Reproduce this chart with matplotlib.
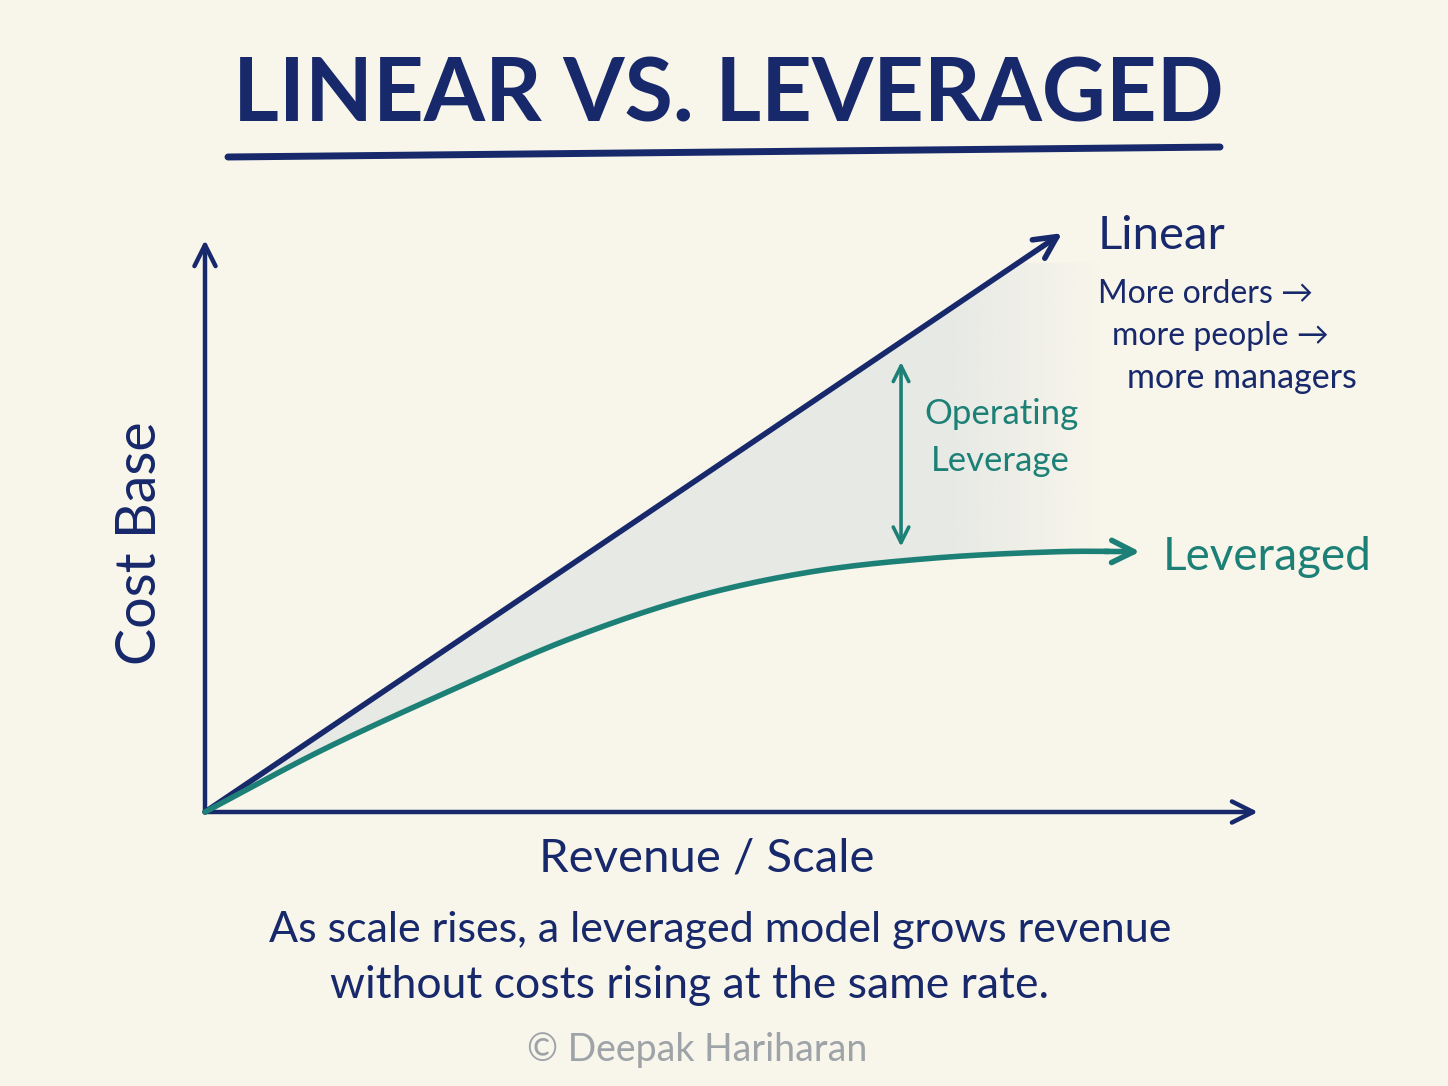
import numpy as np
import matplotlib.pyplot as plt
from matplotlib.patches import Polygon

W, H = 1448, 1086
NAVY = "#17286b"
TEAL = "#1d8076"
BG = "#f8f5eb"

# data (chart units: x 0..10 revenue/scale, y 0..10 cost base)
linear_x = [0.0, 8.14]
linear_y = [0.0, 10.12]
lev_x = [0.0, 1.11, 2.28, 3.44, 4.61, 5.76, 6.93, 8.09, 8.88]
lev_y = [0.0, 1.08, 2.08, 3.01, 3.74, 4.20, 4.44, 4.55, 4.55]
gap_x = 6.61

plt.rcParams['font.family'] = ['Lato', 'DejaVu Sans']


def smooth(xp, yp, n=20):
    # catmull-rom through the read points
    p = np.column_stack([xp, yp])
    p = np.vstack([p[0] * 2 - p[1], p, p[-1] * 2 - p[-2]])
    out = []
    t = np.linspace(0, 1, n, endpoint=False)[:, None]
    for i in range(1, len(p) - 2):
        p0, p1, p2, p3 = p[i - 1], p[i], p[i + 1], p[i + 2]
        seg = 0.5 * (2 * p1 + (-p0 + p2) * t + (2 * p0 - 5 * p1 + 4 * p2 - p3) * t ** 2
                     + (-p0 + 3 * p1 - 3 * p2 + p3) * t ** 3)
        out.append(seg)
    out.append(p[-2][None, :])
    out = np.vstack(out)
    return out[:, 0], out[:, 1]


fig = plt.figure(figsize=(W / 100, H / 100), dpi=100, facecolor=BG)
ax = fig.add_axes([205 / W, (H - 812) / H, (1258 - 205) / W, (812 - 240) / H])
ax.set_xlim(0, 10)
ax.set_ylim(0, 10)
ax.axis('off')


def px(x, y):
    return x / W, 1 - y / H


# axes arrows
arw = dict(arrowstyle='->', lw=3.2, color=NAVY, mutation_scale=38, shrinkA=0, shrinkB=0)
ax.annotate('', xy=(10, 0), xytext=(0, 0), arrowprops=arw, annotation_clip=False)
ax.annotate('', xy=(0, 10), xytext=(0, 0), arrowprops=arw, annotation_clip=False)

cx, cy = smooth(lev_x, lev_y)

# shaded gap, fading out on the right
edge = 8.5
xs = np.linspace(0, edge, 300)
top = np.minimum(np.interp(xs, linear_x, linear_y, right=10.12), 9.6)
bot = np.interp(xs, cx, cy)
poly = Polygon(np.vstack([np.column_stack([xs, bot]), np.column_stack([xs[::-1], top[::-1]])]),
               closed=True, facecolor='none', edgecolor='none', transform=ax.transData)
ax.add_patch(poly)
gx = np.linspace(0, edge, 400)
alpha = np.clip((edge - gx) / 1.4, 0, 1) * 0.75
img = np.zeros((2, len(gx), 4))
img[..., :3] = np.array([0xe2, 0xe6, 0xe4]) / 255
img[..., 3] = alpha
im = ax.imshow(img, extent=[0, edge, 0, 10], origin='lower', aspect='auto', zorder=1,
               interpolation='bilinear')
im.set_clip_path(poly)

# linear line
ax.annotate('', xy=(linear_x[1], linear_y[1]), xytext=(linear_x[0], linear_y[0]),
            arrowprops=dict(arrowstyle='->', lw=4, color=NAVY, mutation_scale=40,
                            shrinkA=0, shrinkB=0), annotation_clip=False, zorder=3)

# leveraged curve
ax.plot(cx[:-8], cy[:-8], color=TEAL, lw=4, solid_capstyle='round', clip_on=False, zorder=3)
ax.annotate('', xy=(cx[-1], cy[-1]), xytext=(cx[-10], cy[-10]),
            arrowprops=dict(arrowstyle='->', lw=4, color=TEAL, mutation_scale=40,
                            shrinkA=0, shrinkB=0), annotation_clip=False, zorder=3)

# operating leverage arrow
g_top = np.interp(gap_x, linear_x, linear_y) - 0.35
g_bot = np.interp(gap_x, cx, cy) + 0.25
ax.annotate('', xy=(gap_x, g_top), xytext=(gap_x, g_bot),
            arrowprops=dict(arrowstyle='<->', lw=2.6, color=TEAL, mutation_scale=28,
                            shrinkA=0, shrinkB=0), annotation_clip=False, zorder=3)

# title
fig.text(*px(728, 96), "LINEAR VS. LEVERAGED", ha='center', va='center',
         fontsize=63.5, fontweight='bold', color=NAVY)
fig.add_artist(plt.Line2D([228 / W, 1220 / W], [1 - 157 / H, 1 - 147 / H],
                          color=NAVY, lw=5, solid_capstyle='round'))

fig.text(*px(1098, 236), "Linear", ha='left', va='center', fontsize=34, color=NAVY)
fig.text(*px(1098, 294), "More orders →", ha='left', va='center', fontsize=23, color=NAVY)
fig.text(*px(1112, 336), "more people →", ha='left', va='center', fontsize=23, color=NAVY)
fig.text(*px(1127, 378), "more managers", ha='left', va='center', fontsize=24.5, color=NAVY)

fig.text(*px(924, 414), "Operating", ha='left', va='center', fontsize=25, color=TEAL)
fig.text(*px(931, 461), "Leverage", ha='left', va='center', fontsize=25, color=TEAL)
fig.text(*px(1163, 557), "Leveraged", ha='left', va='center', fontsize=33, color=TEAL)

fig.text(*px(140, 543), "Cost Base", ha='center', va='center', rotation=90, fontsize=40, color=NAVY)
fig.text(*px(707, 858), "Revenue / Scale", ha='center', va='center', fontsize=34, color=NAVY)

fig.text(*px(720, 930), "As scale rises, a leveraged model grows revenue", ha='center', va='center',
         fontsize=31, color=NAVY)
fig.text(*px(690, 986), "without costs rising at the same rate.", ha='center', va='center',
         fontsize=32, color=NAVY)
fig.text(*px(697, 1050), "© Deepak Hariharan", ha='center', va='center', fontsize=27, color="#9ea3a8")

fig.savefig("out.png", dpi=100, facecolor=BG)
